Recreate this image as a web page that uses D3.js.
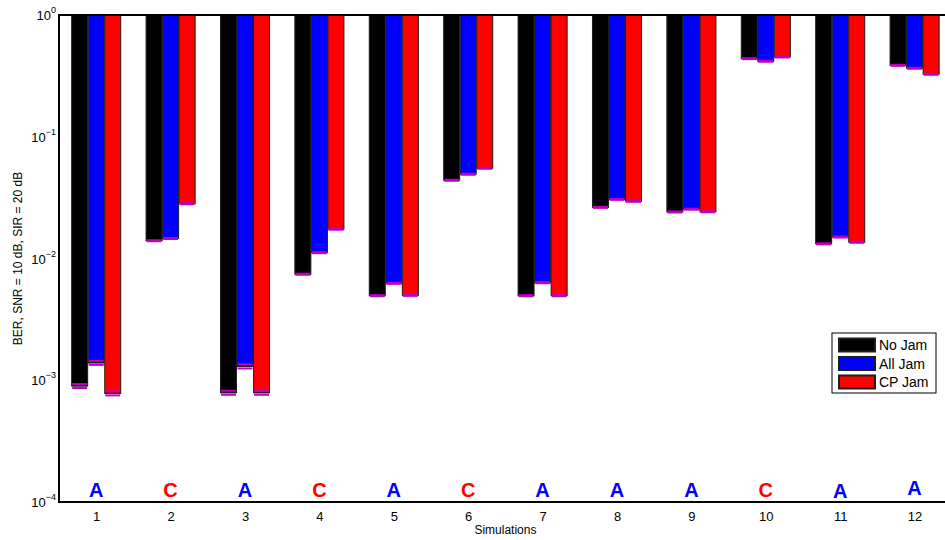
<!DOCTYPE html>
<html>
<head>
<meta charset="utf-8">
<script src="https://cdn.jsdelivr.net/npm/d3@7"></script>
<style>
  html, body { margin: 0; padding: 0; background: #fff; }
  svg { display: block; font-family: "Liberation Sans", Arial, Helvetica, sans-serif; }
</style>
</head>
<body>
<svg id="chart" width="945" height="540"></svg>
<script>
// ---- data ----
const simulations = [1, 2, 3, 4, 5, 6, 7, 8, 9, 10, 11, 12];
const seriesNames = ["No Jam", "All Jam", "CP Jam"];
const seriesColors = ["#000000", "#0000ff", "#ff0000"];
const noJam  = [8.97e-4, 0.0140, 7.9e-4, 7.42e-3, 4.95e-3, 0.0439, 4.95e-3, 0.0263, 0.0241, 0.438, 0.0132, 0.386];
const allJam = [1.39e-3, 0.0146, 1.30e-3, 0.01116, 6.25e-3, 0.0492, 6.33e-3, 0.0306, 0.0254, 0.417, 0.0150, 0.365];
const cpJam  = [7.81e-4, 0.0282, 7.9e-4, 0.0174, 4.98e-3, 0.0551, 4.95e-3, 0.0295, 0.0242, 0.452, 0.0136, 0.326];
// half-width of the error bars (BER units)
const errNoJam  = [3.4e-5, 0, 3.0e-5, 0, 0, 0, 0, 0, 0, 0, 0, 0];
const errAllJam = [5.3e-5, 0, 5.0e-5, 0, 0, 0, 0, 0, 0, 0, 0, 0];
const errCpJam  = [3.0e-5, 0, 3.0e-5, 0, 0, 0, 0, 0, 0, 0, 0, 0];
// best attack type annotation per simulation
const attackLabels = ["A", "C", "A", "C", "A", "C", "A", "A", "A", "C", "A", "A"];
const attackLabelY = [1.105e-4, 1.105e-4, 1.105e-4, 1.105e-4, 1.105e-4, 1.105e-4, 1.105e-4, 1.105e-4, 1.105e-4, 1.105e-4, 1.07e-4, 1.135e-4];
const yTickExponents = [0, -1, -2, -3, -4];
const xLabel = "Simulations";
const yLabel = "BER, SNR = 10 dB, SIR = 20 dB";

// ---- layout ----
const svg = d3.select("#chart");
const pLeft = 59, pTop = 15, pBottom = 502, pRight = 951.8;

const x = d3.scaleLinear().domain([0.5, 12.5]).range([pLeft, pRight]);
const y = d3.scaleLog().domain([1e-4, 1]).range([pBottom, pTop]);

const series = [noJam, allJam, cpJam];
const errs = [errNoJam, errAllJam, errCpJam];
const pitch = 0.2222, bw = 0.215;

const rows = [];
series.forEach((s, j) => s.forEach((v, i) => rows.push({
  sim: simulations[i], j, v, e: errs[j][i], color: seriesColors[j]
})));

svg.append("clipPath").attr("id", "clip").append("rect")
  .attr("x", pLeft).attr("y", pTop).attr("width", pRight - pLeft).attr("height", pBottom - pTop);

const plot = svg.append("g").attr("clip-path", "url(#clip)");

// bars hanging from the top (10^0)
plot.selectAll("rect.bar").data(rows).join("rect")
  .attr("class", "bar")
  .attr("x", d => x(d.sim + (d.j - 1) * pitch - bw / 2))
  .attr("width", d => x(d.sim + bw / 2) - x(d.sim - bw / 2))
  .attr("y", y(1))
  .attr("height", d => y(d.v) - y(1))
  .attr("fill", d => d.color)
  .attr("stroke", "#1e1e1e")
  .attr("stroke-width", 1);

// error caps
const caps = [];
rows.forEach(d => {
  caps.push({ ...d, cy: d.v - d.e });
  if (d.e > 0) caps.push({ ...d, cy: d.v + d.e });
});
plot.selectAll("line.cap").data(caps).join("line")
  .attr("class", "cap")
  .attr("x1", d => x(d.sim + (d.j - 1) * pitch - bw / 2) + 0.5)
  .attr("x2", d => x(d.sim + (d.j - 1) * pitch + bw / 2) - 0.5)
  .attr("y1", d => y(d.cy)).attr("y2", d => y(d.cy))
  .attr("stroke", "#c000c0").attr("stroke-width", d => d.e > 0 ? 2 : 3);

// bottom edge over the split caps
plot.selectAll("line.edge").data(rows.filter(d => d.e > 0)).join("line")
  .attr("class", "edge")
  .attr("x1", d => x(d.sim + (d.j - 1) * pitch - bw / 2))
  .attr("x2", d => x(d.sim + (d.j - 1) * pitch + bw / 2))
  .attr("y1", d => y(d.v)).attr("y2", d => y(d.v))
  .attr("stroke", "#1e1e1e").attr("stroke-width", 1);

// attack annotations
plot.selectAll("text.att").data(simulations).join("text")
  .attr("class", "att")
  .attr("x", d => x(d))
  .attr("y", (d, i) => y(attackLabelY[i]))
  .attr("text-anchor", "middle")
  .attr("font-size", 20).attr("font-weight", "bold")
  .attr("fill", (d, i) => attackLabels[i] === "A" ? "#0000ff" : "#ff0000")
  .text((d, i) => attackLabels[i]);

// axes box
svg.append("line").attr("x1", pLeft).attr("x2", 945).attr("y1", pTop).attr("y2", pTop)
  .attr("stroke", "#000").attr("stroke-width", 2);
svg.append("line").attr("x1", pLeft).attr("x2", 945).attr("y1", pBottom).attr("y2", pBottom)
  .attr("stroke", "#000").attr("stroke-width", 2);
svg.append("line").attr("x1", pLeft).attr("x2", pLeft).attr("y1", pTop - 1).attr("y2", pBottom + 1)
  .attr("stroke", "#000").attr("stroke-width", 2);

// x tick labels
const xAxis = d3.axisBottom(x).tickValues(simulations).tickSize(0).tickPadding(10)
  .tickFormat(d3.format("d"));
const gx = svg.append("g").attr("transform", `translate(0,${pBottom})`).call(xAxis);
gx.select(".domain").remove();
gx.selectAll("text").attr("font-size", 13).attr("fill", "#000")
  .attr("font-family", "'Liberation Sans', Arial, sans-serif");

// y tick labels 10^n
const gy = svg.append("g");
yTickExponents.forEach(n => {
  const t = gy.append("text")
    .attr("x", pLeft - 3).attr("y", y(Math.pow(10, n)) + 5)
    .attr("text-anchor", "end").attr("font-size", 13).attr("fill", "#000");
  t.append("tspan").text("10");
  t.append("tspan").attr("dy", -7).attr("font-size", 9).text(n === 0 ? "0" : "\u2212" + Math.abs(n));
});

// axis titles
svg.append("text").attr("x", (pLeft + pRight) / 2).attr("y", 534)
  .attr("text-anchor", "middle").attr("font-size", 12).text(xLabel);
svg.append("text")
  .attr("transform", `translate(22,${(pTop + pBottom) / 2}) rotate(-90)`)
  .attr("text-anchor", "middle").attr("font-size", 12).text(yLabel);

// legend
const lg = svg.append("g").attr("transform", "translate(832,333)");
lg.append("rect").attr("width", 104).attr("height", 60)
  .attr("fill", "#fff").attr("stroke", "#000").attr("stroke-width", 1);
seriesNames.forEach((name, j) => {
  const cy = 12 + j * 18.5;
  lg.append("rect").attr("x", 7).attr("y", cy - 6.5).attr("width", 36).attr("height", 13)
    .attr("fill", seriesColors[j]).attr("stroke", "#1e1e1e").attr("stroke-width", 2);
  lg.append("text").attr("x", 47).attr("y", cy + 5).attr("font-size", 14).text(name);
});
</script>
</body>
</html>
